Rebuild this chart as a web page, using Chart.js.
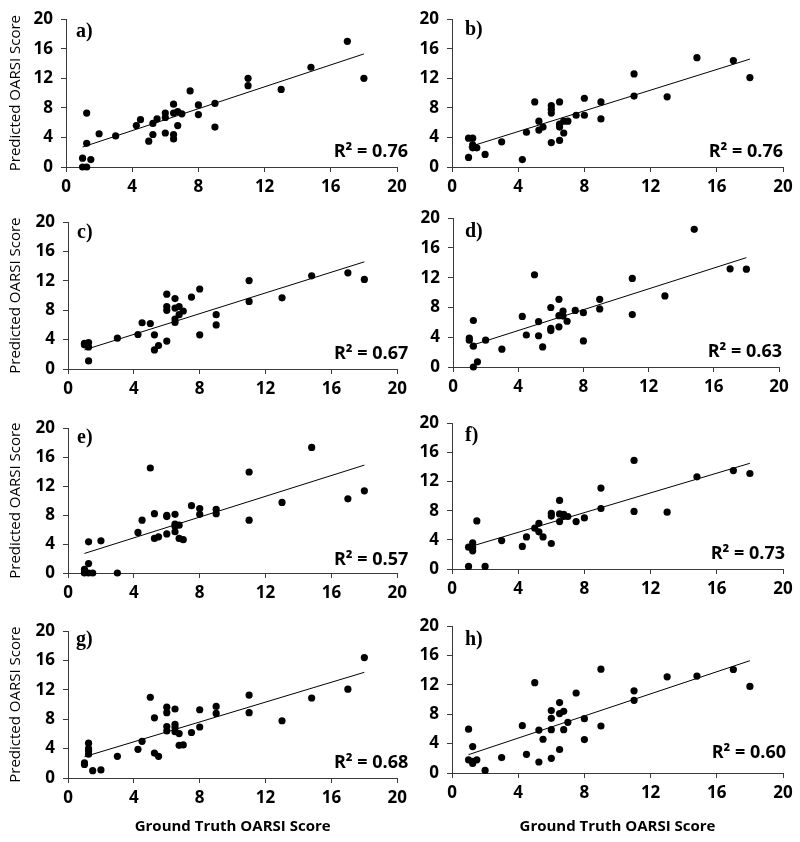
<!DOCTYPE html>
<html>
<head>
<meta charset="utf-8">
<title>Predicted vs ground truth OARSI score</title>
<script src="https://cdn.jsdelivr.net/npm/chart.js@4.4.1/dist/chart.umd.min.js"></script>
<style>
  html, body { margin: 0; padding: 0; background: #fff; }
  #wrap { position: relative; width: 800px; height: 842px; overflow: hidden; }
  #wrap canvas { position: absolute; }
</style>
</head>
<body>
<div id="wrap"></div>
<script>
const TICKS = [0, 4, 8, 12, 16, 20];
const LETTERS = ['a)', 'b)', 'c)', 'd)', 'e)', 'f)', 'g)', 'h)'];
const R2 = ['0.76', '0.76', '0.67', '0.63', '0.57', '0.73', '0.68', '0.60'];
const Y_TITLE = 'Predicted OARSI Score';
const X_TITLE = 'Ground Truth OARSI Score';

// ground truth (x) and predicted (y) per panel
const xA = [1, 1, 1.25, 1.25, 1.25, 1.5, 2, 3, 4.25, 4.5, 5, 5.25, 5.25, 5.5, 6, 6, 6, 6.5, 6.5, 6.5, 6.5, 6.75, 6.75, 7, 7.5, 8, 8, 9, 9, 11, 11, 13, 14.8, 17, 18];
const yA = [1.2, 0, 0, 7.3, 3.2, 1, 4.5, 4.2, 5.6, 6.4, 3.5, 5.9, 4.4, 6.5, 7.3, 6.7, 4.6, 8.5, 7.3, 4.4, 3.8, 7.5, 5.6, 7.2, 10.3, 8.4, 7.1, 8.6, 5.4, 12, 11, 10.5, 13.5, 17, 12];

const xB = [1, 1, 1.25, 1.25, 1.25, 1.5, 2, 3, 4.25, 4.5, 5, 5.25, 5.25, 5.5, 6, 6, 6, 6, 6.5, 6.5, 6.5, 6.5, 6.75, 6.75, 7, 7.5, 8, 8, 9, 9, 11, 11, 13, 14.8, 17, 18];
const yB = [3.9, 1.3, 3.9, 3.0, 2.6, 2.6, 1.7, 3.4, 1.0, 4.7, 8.8, 6.2, 5.0, 5.4, 8.3, 7.8, 7.3, 3.3, 8.8, 5.8, 5.4, 3.6, 4.6, 6.2, 6.2, 7.0, 9.3, 7.0, 8.8, 6.5, 12.6, 9.6, 9.5, 14.8, 14.4, 12.1];

const xC = [1, 1, 1, 1.25, 1.25, 1.25, 3, 4.25, 4.5, 5, 5.25, 5.25, 5.5, 6, 6, 6, 6, 6.5, 6.5, 6.5, 6.5, 6.75, 6.75, 7, 7.5, 8, 8, 9, 9, 11, 11, 13, 14.8, 17, 18];
const yC = [3.4, 3.5, 3.3, 3.6, 3.0, 1.1, 4.2, 4.7, 6.3, 6.2, 4.65, 2.6, 3.2, 10.2, 8.5, 8.0, 3.8, 9.6, 8.3, 6.8, 6.35, 8.5, 7.4, 7.9, 9.8, 10.9, 4.65, 7.4, 6.0, 12.05, 9.2, 9.7, 12.7, 13.1, 12.2];

const xD = [1, 1, 1.25, 1.25, 1.25, 1.5, 2, 3, 4.25, 4.5, 5, 5.25, 5.25, 5.5, 6, 6, 6, 6.5, 6.5, 6.5, 6.75, 6.75, 7, 7.5, 8, 8, 9, 9, 11, 11, 13, 14.8, 17, 18];
const yD = [3.9, 3.6, 6.25, 2.8, 0, 0.7, 3.6, 2.4, 6.8, 4.3, 12.4, 6.1, 4.2, 2.7, 8.0, 5.2, 4.9, 9.1, 6.9, 5.4, 7.5, 6.85, 6.15, 7.6, 7.3, 3.5, 9.1, 7.8, 11.9, 7.05, 9.55, 18.5, 13.2, 13.15];

const xE = [1, 1, 1, 1.25, 1.25, 1.25, 1.5, 2, 3, 4.25, 4.5, 5, 5.25, 5.25, 5.5, 6, 6, 6, 6.5, 6.5, 6.5, 6.5, 6.75, 6.75, 7, 7.5, 8, 8, 9, 9, 11, 11, 13, 14.8, 17, 18];
const yE = [0.5, 0.15, 0, 4.3, 1.3, 0, 0, 4.45, 0, 5.6, 7.3, 14.5, 8.2, 4.77, 5.0, 7.95, 7.8, 5.4, 8.1, 6.75, 6.45, 5.7, 6.6, 4.77, 4.6, 9.3, 8.9, 8.1, 8.8, 8.2, 13.95, 7.3, 9.75, 17.35, 10.25, 11.35];

const xF = [1, 1, 1.25, 1.25, 1.25, 1.5, 2, 3, 4.25, 4.5, 5, 5.25, 5.25, 5.5, 6, 6, 6, 6.5, 6.5, 6.5, 6.75, 6.75, 7, 7.5, 8, 9, 9, 11, 11, 13, 14.8, 17, 18];
const yF = [3.0, 0.35, 3.6, 2.96, 2.5, 6.6, 0.35, 3.9, 3.1, 4.4, 5.6, 6.26, 5.1, 4.4, 7.65, 7.26, 3.5, 9.4, 7.55, 6.5, 7.5, 7.2, 7.2, 6.5, 7.0, 11.1, 8.3, 14.9, 7.9, 7.8, 12.65, 13.5, 13.1];

const xG = [1, 1, 1.25, 1.25, 1.25, 1.25, 1.5, 2, 3, 4.25, 4.5, 5, 5.25, 5.25, 5.5, 6, 6, 6, 6, 6.5, 6.5, 6.5, 6.5, 6.75, 6.75, 7, 7.5, 8, 8, 9, 9, 11, 11, 13, 14.8, 17, 18];
const yG = [2.06, 1.85, 4.75, 4.0, 3.7, 3.25, 1.0, 1.1, 2.95, 3.9, 5.0, 11.0, 8.2, 3.4, 2.95, 9.65, 8.9, 7.0, 6.4, 9.4, 7.3, 6.85, 6.3, 6.05, 4.45, 4.5, 6.2, 9.3, 6.95, 9.75, 8.8, 11.3, 8.9, 7.8, 10.9, 12.1, 16.4];

const xH = [1, 1, 1.25, 1.25, 1.25, 1.5, 2, 3, 4.25, 4.5, 5, 5.25, 5.25, 5.5, 6, 6, 6, 6, 6.5, 6.5, 6.5, 6.75, 6.75, 7, 7.5, 8, 8, 9, 9, 11, 11, 13, 14.8, 17, 18];
const yH = [5.97, 1.8, 3.6, 1.3, 1.6, 1.8, 0.35, 2.1, 6.45, 2.55, 12.3, 5.85, 1.5, 4.6, 8.5, 7.45, 5.9, 2.0, 9.6, 8.1, 3.2, 8.4, 5.9, 6.9, 10.9, 7.4, 4.55, 14.15, 6.4, 11.2, 9.9, 13.1, 13.2, 14.1, 11.8];

// linear trend lines, y at TREND_X ends
const TREND_X = [1, 18];
const trendA = [2.7, 15.3];
const trendB = [2.7, 14.6];
const trendC = [2.6, 14.6];
const trendD = [2.8, 14.7];
const trendE = [2.7, 14.9];
const trendF = [3.0, 14.5];
const trendG = [2.9, 14.4];
const trendH = [2.5, 15.3];

const XS = [xA, xB, xC, xD, xE, xF, xG, xH];
const YS = [yA, yB, yC, yD, yE, yF, yG, yH];
const TRENDS = [trendA, trendB, trendC, trendD, trendE, trendF, trendG, trendH];

// plot areas on the page: left, top, right, bottom
const BOXES = [
  [66, 13, 397, 167], [452, 13, 783, 167],
  [68, 216, 398, 369], [453, 212, 779, 367],
  [68, 422, 398, 573], [452, 417, 783, 569],
  [68, 625, 398, 778], [452, 620, 783, 773]
];
// letter offset from plot top-left, R² offset from plot bottom-right
const LETTER_OFF = [[10, 13], [13, 11], [9, 11], [12, 14], [9, 10], [13, 13], [8, 9], [13, 14]];
const R2_OFF = [[11, 10], [0, 10], [11, 10], [3, 10], [11, 8], [2, 10], [11, 10], [3, 15]];

const AXIS = '#3a3a3a';
const FONT = 'Open Sans';

const labelPlugin = {
  id: 'panelLabels',
  afterDraw(chart, args, opts) {
    const { ctx, chartArea: a } = chart;
    ctx.save();
    ctx.fillStyle = '#000';
    ctx.font = 'bold 20px "Liberation Serif"';
    ctx.textAlign = 'left';
    ctx.textBaseline = 'middle';
    ctx.fillText(opts.letter, a.left + opts.letterOff[0], a.top + opts.letterOff[1]);
    ctx.font = 'bold 18px "' + FONT + '"';
    ctx.textAlign = 'right';
    ctx.textBaseline = 'alphabetic';
    ctx.fillText('R\u00B2 = ' + opts.r2, a.right + opts.r2Off[0], a.bottom - opts.r2Off[1]);
    ctx.restore();
  }
};

function axis(width, height, title) {
  return {
    type: 'linear',
    min: 0,
    max: 20,
    afterBuildTicks: s => { s.ticks = TICKS.map(v => ({ value: v })); },
    afterFit: s => {
      if (width) s.width = width;
      if (height) s.height = height;
    },
    grid: { drawOnChartArea: false, drawTicks: true, tickLength: 5, color: AXIS, lineWidth: 1 },
    border: { display: true, color: AXIS, width: 1 },
    ticks: {
      color: '#000',
      padding: width ? 8 : 5,
      maxRotation: 0,
      font: { family: FONT, size: 17, weight: 'bold' }
    },
    title: title
  };
}

function panel(i) {
  const [l, t, r, b] = BOXES[i];
  const leftCol = i % 2 === 0;
  const lastRow = i >= 6;
  const cx = leftCol ? 0 : 400;
  const cw = leftCol ? 412 : 398;
  const cy = t - 12;
  const ch = lastRow ? 842 - cy : b + 32 - cy;

  const canvas = document.createElement('canvas');
  canvas.width = cw;
  canvas.height = ch;
  canvas.style.left = cx + 'px';
  canvas.style.top = cy + 'px';
  document.getElementById('wrap').appendChild(canvas);

  const points = XS[i].map((x, k) => ({ x: x, y: YS[i][k] }));
  const trend = TREND_X.map((x, k) => ({ x: x, y: TRENDS[i][k] }));

  const yTitle = leftCol
    ? { display: true, text: Y_TITLE, color: '#000', padding: { top: 7, bottom: 0 }, font: { family: FONT, size: 15 } }
    : { display: false };
  const xTitle = lastRow
    ? { display: true, text: X_TITLE, color: '#000', padding: { top: 0, bottom: 6 }, font: { family: FONT, size: 15, weight: 'bold' } }
    : { display: false };

  new Chart(canvas.getContext('2d'), {
    type: 'scatter',
    data: {
      datasets: [
        {
          data: points,
          backgroundColor: '#000',
          borderWidth: 0,
          pointRadius: 3.6,
          clip: false
        },
        {
          type: 'line',
          data: trend,
          borderColor: '#000',
          borderWidth: 1,
          pointRadius: 0,
          fill: false,
          clip: false
        }
      ]
    },
    options: {
      responsive: false,
      animation: false,
      layout: { padding: { left: 0, top: 12, right: cw - (r - cx), bottom: 0 }, autoPadding: false },
      plugins: {
        legend: { display: false },
        tooltip: { enabled: false },
        panelLabels: { letter: LETTERS[i], r2: R2[i], letterOff: LETTER_OFF[i], r2Off: R2_OFF[i] }
      },
      scales: {
        x: axis(0, cy + ch - b, xTitle),
        y: axis(l - cx, 0, yTitle)
      }
    },
    plugins: [labelPlugin]
  });
}

for (let i = 0; i < 8; i++) panel(i);
</script>
</body>
</html>
